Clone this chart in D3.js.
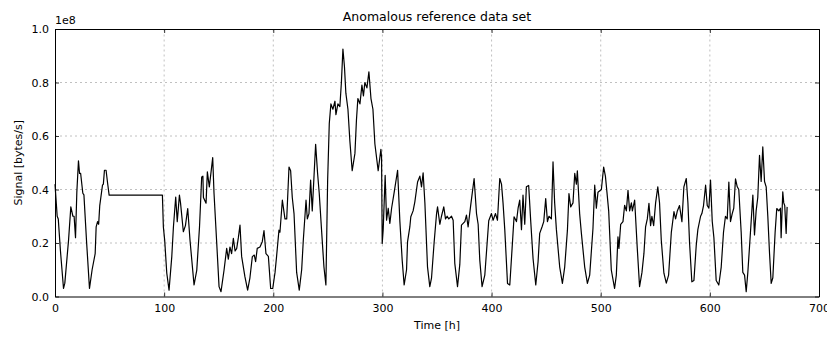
<!DOCTYPE html>
<html><head><meta charset="utf-8">
<script src="https://cdn.jsdelivr.net/npm/d3@7"></script>
<style>body{margin:0;background:#fff}svg{display:block}text{font-family:"DejaVu Sans",sans-serif;fill:#000}</style>
</head><body><svg id="c" width="827" height="337"></svg>
<script>
const title = "Anomalous reference data set";
const xLabel = "Time [h]";
const yLabel = "Signal [bytes/s]";
const xTicks = [0,100,200,300,400,500,600,700];
const yTicks = [0.0,0.2,0.4,0.6,0.8,1.0];
const yScaleText = "1e8";
// time [h]
const times = [0,2,3,5,7.8,9,12.4,14.5,16.4,17.5,18.8,20,21.5,22.5,23.5,25.5,26.5,29,31.6,34,36.8,37.7,39,40,41,43.5,44.3,45.3,46.8,48,49.6,98.4,99.3,100.5,102.4,104.5,107,108.5,110.6,112,114,115,117.6,119.5,121.6,123.7,127.4,129.9,132.4,134.4,135.5,136,138.4,139.6,141.4,144.5,145.7,148.2,150.3,152.1,154.9,157.3,158.8,160.3,161.8,163.4,165,166.5,168,169.5,171,174,176.5,178.6,180.8,182.6,183.8,185.3,187.8,189.9,191.5,193.3,195.5,197.6,199.5,201.6,203,205.2,206.1,208.3,210.7,212.3,214.4,215.9,217.4,219,221.4,223.8,226,227.5,230,231.2,232.7,234.2,235.7,238.8,240.6,242.1,244.2,246.4,248.2,249.8,251.3,252.8,254.6,256.5,257.4,259.2,261,262.4,263.8,265.2,266.5,268.4,270.2,272.3,274.8,276.2,277.5,279.4,281.2,282.6,283.9,285.8,287.6,289.5,291.3,293.1,296.1,298.6,299.2,299.8,300.7,302.5,303.8,305.3,306.8,308.4,310.8,313.9,316,318.1,319.9,322.1,323,325.1,326,328.1,329.7,332.2,334.3,335.8,337.3,338.9,341.3,343.4,345,347.4,349.6,350.5,352.6,354.1,356.2,357.8,359.3,360.8,363.3,364.8,366.3,368.8,370.9,372.4,375.5,377,378.5,380.7,384,386.2,387.7,389.2,391.3,393.8,395.9,397.4,399.9,401.4,403.6,405.4,407.5,409.1,410.5,412.1,414.6,416.7,418.8,420.6,422.8,424.3,425.8,427.4,428.8,430.4,431.9,434,435.9,438,440.5,442.6,444.1,446.2,447.8,449.6,451.2,452.6,454.8,456.3,457.8,459.4,462.4,464.9,467,469.5,470.9,472.5,474.6,476.2,477.7,478.6,480.7,482.3,485.3,487.8,489.9,492.9,494.5,496,497.5,500.6,502.7,504.3,505.7,507.3,509.7,512.7,514.3,515.8,516.7,518.3,520.4,521.9,523.5,525,526.5,528.1,529,531.1,533.5,535.6,537.8,539.6,541.1,542.7,544.2,545.7,546.9,548.5,550.3,552.3,553.9,555.5,557.9,560.1,562.2,564.7,567.1,568.6,570.2,572.2,574.4,576.2,578.4,579.9,581.4,583.5,585.4,587.5,589,591.5,592.7,594.2,596.1,597.6,599.1,600.6,602.2,603.7,605.8,608.2,610.4,612.5,614.3,615.9,617.4,618.9,620.5,621.9,623.5,625.1,626.5,628.7,630.2,631.8,633.3,634.8,637.2,639.4,640.9,642.4,643.9,645.5,647,648.5,650.1,651.6,653.1,654.7,656.2,657.7,659.8,661.3,663.2,664.7,665.3,666.8,667.7,668.6,669.9,670.8];
// signal [1e8 bytes/s]
const signal = [0.42,0.30,0.29,0.17,0.03,0.05,0.21,0.335,0.30,0.30,0.22,0.39,0.507,0.46,0.46,0.386,0.38,0.2,0.03,0.1,0.16,0.26,0.28,0.27,0.34,0.416,0.42,0.472,0.472,0.43,0.379,0.379,0.26,0.21,0.088,0.024,0.149,0.26,0.372,0.28,0.379,0.35,0.242,0.265,0.329,0.21,0.043,0.099,0.26,0.447,0.45,0.37,0.349,0.466,0.41,0.519,0.386,0.198,0.037,0.018,0.099,0.18,0.14,0.185,0.16,0.217,0.17,0.18,0.22,0.267,0.15,0.074,0.024,0.07,0.149,0.155,0.13,0.18,0.185,0.205,0.246,0.16,0.15,0.03,0.03,0.09,0.149,0.248,0.24,0.36,0.29,0.29,0.484,0.47,0.37,0.31,0.09,0.024,0.10,0.21,0.36,0.29,0.31,0.435,0.32,0.569,0.46,0.386,0.25,0.111,0.043,0.435,0.647,0.72,0.70,0.73,0.68,0.72,0.71,0.80,0.925,0.86,0.76,0.70,0.58,0.47,0.535,0.66,0.74,0.72,0.79,0.75,0.80,0.78,0.84,0.74,0.70,0.57,0.47,0.55,0.52,0.198,0.25,0.453,0.285,0.33,0.273,0.33,0.39,0.472,0.28,0.136,0.043,0.1,0.204,0.26,0.298,0.32,0.354,0.428,0.45,0.41,0.462,0.35,0.111,0.037,0.07,0.204,0.31,0.335,0.27,0.30,0.335,0.29,0.30,0.29,0.30,0.285,0.124,0.037,0.12,0.267,0.28,0.304,0.26,0.335,0.441,0.31,0.27,0.136,0.037,0.08,0.198,0.283,0.31,0.285,0.31,0.285,0.441,0.42,0.35,0.25,0.049,0.043,0.18,0.298,0.28,0.33,0.36,0.25,0.379,0.27,0.41,0.415,0.28,0.142,0.043,0.13,0.236,0.26,0.28,0.366,0.28,0.30,0.29,0.503,0.35,0.25,0.111,0.049,0.11,0.248,0.385,0.335,0.35,0.46,0.42,0.47,0.31,0.236,0.111,0.049,0.08,0.254,0.416,0.33,0.39,0.40,0.484,0.45,0.39,0.32,0.099,0.03,0.08,0.223,0.18,0.27,0.28,0.341,0.32,0.397,0.32,0.35,0.32,0.36,0.18,0.037,0.09,0.161,0.26,0.29,0.348,0.265,0.30,0.265,0.35,0.41,0.35,0.21,0.087,0.05,0.08,0.24,0.317,0.29,0.32,0.34,0.28,0.41,0.441,0.35,0.2,0.055,0.06,0.19,0.25,0.3,0.31,0.34,0.416,0.34,0.33,0.435,0.28,0.22,0.06,0.043,0.11,0.24,0.3,0.29,0.428,0.28,0.31,0.33,0.44,0.41,0.40,0.24,0.09,0.08,0.018,0.09,0.24,0.379,0.23,0.32,0.37,0.528,0.43,0.559,0.43,0.41,0.30,0.16,0.049,0.07,0.24,0.329,0.32,0.33,0.22,0.391,0.35,0.34,0.236,0.335];

const svg = d3.select("#c");
const m = {l:55, r:8, t:29, b:40.5};
const W = 827, H = 337;
const x = d3.scaleLinear().domain([0,700]).range([m.l, W-m.r]);
const y = d3.scaleLinear().domain([0,1]).range([H-m.b, m.t]);

// grid
const grid = svg.append("g").attr("stroke","#b0b0b0").attr("stroke-width",0.8).attr("stroke-dasharray","2,3");
grid.selectAll("line.v").data(xTicks.slice(1,-1)).join("line")
  .attr("x1",d=>x(d)).attr("x2",d=>x(d)).attr("y1",y(0)).attr("y2",y(1));
grid.selectAll("line.h").data(yTicks.slice(1,-1)).join("line")
  .attr("x1",x(0)).attr("x2",x(700)).attr("y1",d=>y(d)).attr("y2",d=>y(d));

// line
const pts = times.map((t,i)=>[t,signal[i]]);
svg.append("path").datum(pts)
  .attr("fill","none").attr("stroke","#000").attr("stroke-width",1.2).attr("stroke-linejoin","round")
  .attr("d", d3.line().x(d=>x(d[0])).y(d=>y(d[1])));

// axes (inward ticks, classic style)
const fmtY = d3.format(".1f");
const gx = svg.append("g").attr("transform",`translate(0,${y(0)})`)
  .call(d3.axisBottom(x).tickValues(xTicks).tickFormat(d3.format("d")).tickSizeInner(-4).tickSizeOuter(0).tickPadding(8));
const gxt = svg.append("g").attr("transform",`translate(0,${y(1)})`)
  .call(d3.axisTop(x).tickValues(xTicks).tickFormat("").tickSizeInner(-4).tickSizeOuter(0));
const gy = svg.append("g").attr("transform",`translate(${x(0)},0)`)
  .call(d3.axisLeft(y).tickValues(yTicks).tickFormat(fmtY).tickSizeInner(-4).tickSizeOuter(0).tickPadding(6));
const gyr = svg.append("g").attr("transform",`translate(${x(700)},0)`)
  .call(d3.axisRight(y).tickValues(yTicks).tickFormat("").tickSizeInner(-4).tickSizeOuter(0));
[gx,gxt,gy,gyr].forEach(g=>{
  g.selectAll(".domain").attr("stroke","#000").attr("stroke-width",1);
  g.selectAll(".tick line").attr("stroke","#000").attr("stroke-width",0.8);
  g.selectAll("text").attr("font-family","DejaVu Sans").attr("font-size",11).attr("fill","#222");
});

svg.append("text").attr("x",(x(0)+x(700))/2).attr("y",21).attr("text-anchor","middle").attr("font-size",12.5).text(title);
svg.append("text").attr("x",(x(0)+x(700))/2).attr("y",329).attr("text-anchor","middle").attr("font-size",11).text(xLabel);
svg.append("text").attr("transform",`translate(22,${(y(0)+y(1))/2}) rotate(-90)`).attr("text-anchor","middle").attr("font-size",11).text(yLabel);
svg.append("text").attr("x",x(0)).attr("y",24).attr("font-size",11).attr("fill","#222").text(yScaleText);
</script></body></html>
